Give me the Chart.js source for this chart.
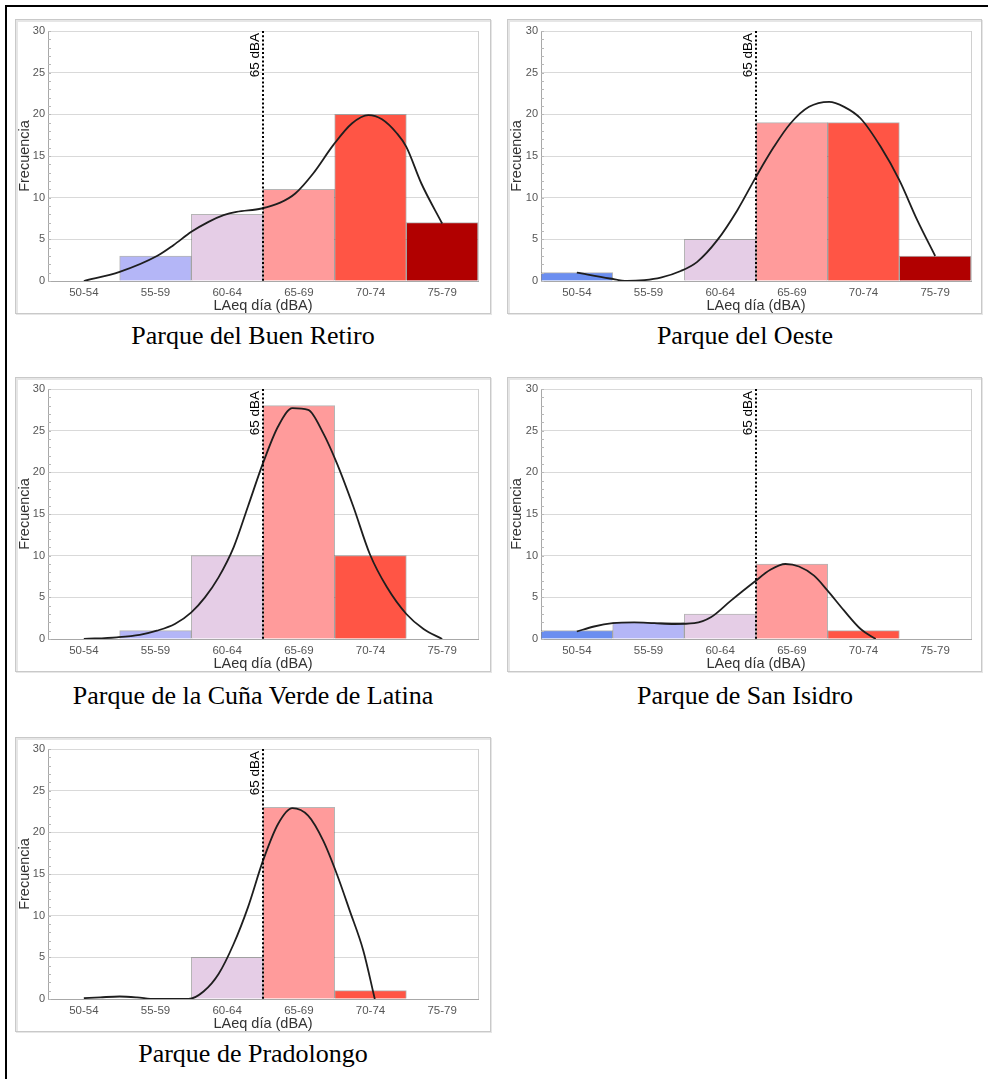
<!DOCTYPE html>
<html>
<head>
<meta charset="utf-8">
<script src="https://cdn.jsdelivr.net/npm/chart.js@4.4.1/dist/chart.umd.min.js"></script>
<style>
  body { margin: 0; background: #fff; width: 988px; height: 1079px; overflow: hidden; position: relative; }
  #frame { position: absolute; left: 5px; top: 5px; right: 0; bottom: 0; border-left: 2px solid #000; border-top: 2px solid #000; }
  canvas { position: absolute; }
  .title { position: absolute; text-align: center; font-family: "Liberation Serif", "Times New Roman", serif; font-size: 26px; line-height: 26px; color: #000; white-space: nowrap; }
</style>
</head>
<body>
<div id="frame"></div>
<script>
// categories (LAeq dia bins)
const categories = ["50-54", "55-59", "60-64", "65-69", "70-74", "75-79"];
const barColors = ["#6b8ef0", "#b4b6f7", "#e5cde6", "#ff9b9b", "#ff5545", "#b10000"];
const yTicks = [0, 5, 10, 15, 20, 25, 30];
const limitValue = 2.5; // 65 dBA sits between 60-64 and 65-69

// Parque del Buen Retiro
const retiroBars = [0, 3, 8, 11, 20, 7];
const retiroCurveX = [0, 0.5, 1.02, 1.25, 1.5, 1.74, 1.95, 2.13, 2.48, 2.74, 2.95, 3.2, 3.48, 3.74, 3.97, 4.16, 4.37, 4.5, 4.71, 5.0];
const retiroCurveY = [0, 1.1, 3.0, 4.3, 5.9, 7.1, 7.9, 8.3, 8.7, 9.4, 10.5, 12.9, 16.3, 18.9, 19.9, 19.4, 17.7, 16.1, 11.7, 6.9];

// Parque del Oeste
const oesteBars = [1, 0, 5, 19, 19, 3];
const oesteCurveX = [0, 0.46, 0.7, 0.94, 1.17, 1.45, 1.68, 1.96, 2.24, 2.5, 2.75, 2.98, 3.24, 3.52, 3.73, 3.96, 4.24, 4.5, 4.75, 5.0];
const oesteCurveY = [1.0, 0.3, 0, 0.1, 0.4, 1.2, 2.3, 4.9, 8.5, 12.5, 16.1, 18.9, 20.9, 21.5, 20.9, 19.5, 16.1, 12.1, 7.3, 3.0];

// Parque de la Cuña Verde de Latina
const cunaBars = [0, 1, 10, 28, 10, 0];
const cunaCurveX = [0, 0.46, 0.78, 1.02, 1.27, 1.5, 1.69, 1.88, 2.09, 2.29, 2.5, 2.71, 2.91, 3.13, 3.34, 3.53, 3.76, 3.99, 4.23, 4.5, 4.74, 5.0];
const cunaCurveY = [0, 0.2, 0.5, 1.0, 1.8, 3.2, 5.0, 7.4, 11.0, 15.9, 21.1, 25.5, 27.7, 27.5, 24.7, 21.1, 15.9, 10.2, 6.2, 3.0, 1.2, 0];

// Parque de San Isidro
const isidroBars = [1, 2, 3, 9, 1, 0];
const isidroCurveX = [0, 0.24, 0.5, 0.8, 1.08, 1.36, 1.64, 1.87, 2.15, 2.47, 2.7, 2.91, 3.1, 3.31, 3.49, 3.73, 3.96, 4.17];
const isidroCurveY = [0.9, 1.5, 1.9, 2.0, 1.9, 1.8, 1.9, 2.6, 4.6, 6.8, 8.3, 9.0, 8.7, 7.6, 5.9, 3.4, 1.2, 0];

// Parque de Pradolongo
const pradoBars = [0, 0, 5, 23, 1, 0];
const pradoCurveX = [0, 0.23, 0.5, 0.74, 0.99, 1.46, 1.67, 1.88, 2.09, 2.29, 2.5, 2.71, 2.91, 3.13, 3.34, 3.53, 3.71, 3.9, 4.06];
const pradoCurveY = [0.1, 0.2, 0.3, 0.2, 0, 0, 0.9, 3.0, 6.6, 11.0, 16.6, 21.0, 22.9, 22.0, 19.0, 15.0, 10.6, 5.8, 0];

const titles = ["Parque del Buen Retiro", "Parque del Oeste", "Parque de la Cuña Verde de Latina", "Parque de San Isidro", "Parque de Pradolongo"];

Chart.defaults.font.family = "Arial, 'Liberation Sans', sans-serif";

// box, plot frame, minor ticks and the 65 dBA marker
const decorPlugin = {
  id: "decor",
  beforeDraw(chart) {
    const ctx = chart.ctx;
    ctx.save();
    ctx.fillStyle = "#fff";
    ctx.fillRect(0, 0, chart.width, chart.height);
    ctx.strokeStyle = "#e6e6e6";
    ctx.lineWidth = 2;
    ctx.strokeRect(2, 2, chart.width - 3, chart.height - 3);
    ctx.strokeStyle = "#c9c9c9";
    ctx.lineWidth = 1;
    ctx.strokeRect(0.5, 0.5, chart.width - 2, chart.height - 2);
    ctx.restore();
  },
  afterDatasetsDraw(chart) {
    const ctx = chart.ctx;
    const a = chart.chartArea;
    const y = chart.scales.y;
    const xl = chart.scales.xl;
    ctx.save();
    // right edge of plot
    ctx.strokeStyle = "#d0d0d0";
    ctx.lineWidth = 1;
    ctx.beginPath();
    ctx.moveTo(Math.round(a.right) + 0.5, a.top);
    ctx.lineTo(Math.round(a.right) + 0.5, a.bottom);
    ctx.stroke();
    // minor ticks on y axis
    ctx.strokeStyle = "#b8b8b8";
    ctx.beginPath();
    for (let v = 0; v <= 30; v++) {
      const py = Math.round(y.getPixelForValue(v)) + 0.5;
      ctx.moveTo(a.left, py);
      ctx.lineTo(a.left + 3, py);
    }
    ctx.stroke();
    // 65 dBA dotted line
    const lx = xl.getPixelForValue(limitValue);
    ctx.strokeStyle = "#000";
    ctx.lineWidth = 2;
    ctx.setLineDash([2, 2.2]);
    ctx.beginPath();
    ctx.moveTo(lx, a.top);
    ctx.lineTo(lx, a.bottom);
    ctx.stroke();
    ctx.setLineDash([]);
    ctx.translate(lx - 4, a.top + 2);
    ctx.rotate(-Math.PI / 2);
    ctx.fillStyle = "#000";
    ctx.font = "13.5px Arial, 'Liberation Sans', sans-serif";
    ctx.textAlign = "right";
    ctx.textBaseline = "alphabetic";
    ctx.fillText("65 dBA", 0, 0);
    ctx.restore();
  }
};

function makePanel(left, top, width, padL, padR, bars, curveX, curveY) {
  const canvas = document.createElement("canvas");
  canvas.width = width;
  canvas.height = 296;
  canvas.style.left = left + "px";
  canvas.style.top = top + "px";
  canvas.style.width = width + "px";
  canvas.style.height = "296px";
  document.body.appendChild(canvas);

  const curve = curveX.map((x, i) => ({ x: x, y: curveY[i] }));

  new Chart(canvas.getContext("2d"), {
    data: {
      labels: categories,
      datasets: [
        {
          type: "line",
          data: curve,
          xAxisID: "xl",
          yAxisID: "y",
          borderColor: "#1e1e1e",
          borderWidth: 1.8,
          pointRadius: 0,
          cubicInterpolationMode: "monotone",
          fill: false,
          order: 0
        },
        {
          type: "bar",
          data: bars,
          xAxisID: "x",
          yAxisID: "y",
          backgroundColor: barColors,
          borderColor: "rgba(90,90,90,0.45)",
          borderWidth: 1,
          grouped: false,
          barPercentage: 1,
          categoryPercentage: 1,
          order: 1
        }
      ]
    },
    options: {
      responsive: false,
      animation: false,
      devicePixelRatio: 1,
      layout: { padding: { top: 12, right: padR, bottom: 0, left: 0 } },
      plugins: { legend: { display: false }, tooltip: { enabled: false } },
      scales: {
        x: {
          type: "category",
          offset: true,
          grid: { display: false, drawTicks: false },
          border: { color: "#a8a8a8" },
          ticks: { color: "#555", font: { size: 11.5 }, padding: 5, maxRotation: 0 },
          title: { display: true, text: "LAeq día (dBA)", color: "#333", font: { size: 14.5 }, padding: { top: 0, bottom: 0 } },
          afterFit: (s) => { s.height = 34; }
        },
        xl: {
          type: "linear",
          display: false,
          offset: false,
          min: -0.5,
          max: 5.5
        },
        y: {
          min: 0,
          max: 30,
          afterBuildTicks: (s) => { s.ticks = yTicks.map(v => ({ value: v })); },
          grid: { color: "#d9d9d9", drawTicks: false },
          border: { color: "#a8a8a8" },
          ticks: { color: "#555", font: { size: 11 }, padding: 3 },
          title: { display: true, text: "Frecuencia", color: "#333", font: { size: 14.5 }, padding: { top: 1, bottom: 0 } },
          afterFit: (s) => { s.width = padL; }
        }
      }
    },
    plugins: [decorPlugin]
  });
}

function addTitle(text, centerX, top) {
  const d = document.createElement("div");
  d.className = "title";
  d.textContent = text;
  d.style.left = (centerX - 250) + "px";
  d.style.width = "500px";
  d.style.top = top + "px";
  document.body.appendChild(d);
}

makePanel(15, 19, 477, 33, 14, retiroBars, retiroCurveX, retiroCurveY);
makePanel(507, 19, 476, 34, 12, oesteBars, oesteCurveX, oesteCurveY);
makePanel(15, 377, 477, 33, 14, cunaBars, cunaCurveX, cunaCurveY);
makePanel(507, 377, 476, 34, 12, isidroBars, isidroCurveX, isidroCurveY);
makePanel(15, 737, 477, 33, 14, pradoBars, pradoCurveX, pradoCurveY);

addTitle(titles[0], 253, 323);
addTitle(titles[1], 745, 323);
addTitle(titles[2], 253, 683);
addTitle(titles[3], 745, 683);
addTitle(titles[4], 253, 1041);
</script>
</body>
</html>
